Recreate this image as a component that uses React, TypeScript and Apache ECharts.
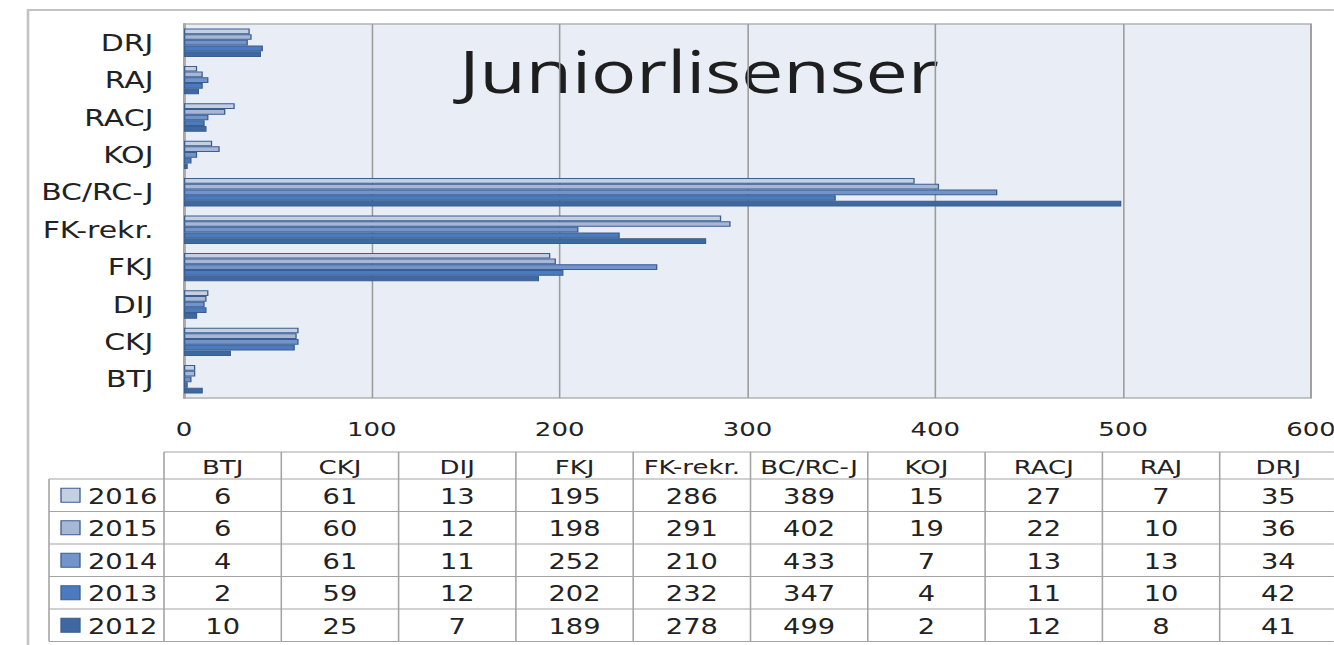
import React, { useEffect, useRef } from "react";
import * as echarts from "echarts";

const categories = ["BTJ", "CKJ", "DIJ", "FKJ", "FK-rekr.", "BC/RC-J", "KOJ", "RACJ", "RAJ", "DRJ"];
const years = ["2016", "2015", "2014", "2013", "2012"];
const v2016 = [6, 61, 13, 195, 286, 389, 15, 27, 7, 35];
const v2015 = [6, 60, 12, 198, 291, 402, 19, 22, 10, 36];
const v2014 = [4, 61, 11, 252, 210, 433, 7, 13, 13, 34];
const v2013 = [2, 59, 12, 202, 232, 347, 4, 11, 10, 42];
const v2012 = [10, 25, 7, 189, 278, 499, 2, 12, 8, 41];
const seriesValues = [v2016, v2015, v2014, v2013, v2012];
const colors = ["#C4CFE3", "#A6B7D7", "#7394CA", "#4B7BBE", "#3F68A0"];
const xTicks = { min: 0, max: 600, interval: 100 };

const S = 1.3; // horizontal stretch of the picture
const W = 1334 / S;
const H = 645;
const X = (x: number) => x / S;

const FONT = "DejaVu Sans";
const TXT = "#222222";
const GRIDC = "#A3A3A3";

function buildTable(): any[] {
  const els: any[] = [];
  const colLeft = 164;
  const colW = 117.3;
  const headTop = 452;
  const headBottom = 479;
  const rowH = 32.5;
  const bottom = headBottom + rowH * years.length;
  const rightEnd = 1345;
  const line = (x1: number, y1: number, x2: number, y2: number) => ({
    type: "line",
    silent: true,
    shape: { x1: X(x1), y1, x2: X(x2), y2 },
    style: { stroke: GRIDC, lineWidth: 1.2 },
  });
  els.push(line(colLeft, headTop, rightEnd, headTop));
  for (let i = 0; i <= years.length; i++) {
    const y = headBottom + i * rowH;
    els.push(line(49, y, rightEnd, y));
  }
  els.push(line(49, headBottom, 49, bottom));
  for (let j = 0; j <= categories.length; j++) {
    const x = colLeft + j * colW;
    els.push(line(x, headTop, x, bottom));
  }
  categories.forEach((c, j) => {
    els.push({
      type: "text",
      silent: true,
      x: X(colLeft + (j + 0.5) * colW),
      y: (headTop + headBottom) / 2 + 1,
      style: {
        text: c,
        fontFamily: FONT,
        fontSize: 20,
        fill: TXT,
        textAlign: "center",
        textVerticalAlign: "middle",
      },
    });
  });
  years.forEach((yr, i) => {
    const cy = headBottom + (i + 0.5) * rowH;
    els.push({
      type: "rect",
      silent: true,
      shape: { x: X(61), y: cy - 7, width: X(19), height: 14 },
      style: { fill: colors[i], stroke: "#3A5E90", lineWidth: 1 },
    });
    els.push({
      type: "text",
      silent: true,
      x: X(88),
      y: cy + 1,
      style: {
        text: yr,
        fontFamily: FONT,
        fontSize: 21,
        fill: TXT,
        textAlign: "left",
        textVerticalAlign: "middle",
      },
    });
    seriesValues[i].forEach((v, j) => {
      els.push({
        type: "text",
        silent: true,
        x: X(colLeft + (j + 0.5) * colW),
        y: cy + 1,
        style: {
          text: String(v),
          fontFamily: FONT,
          fontSize: 21,
          fill: TXT,
          textAlign: "center",
          textVerticalAlign: "middle",
        },
      });
    });
  });
  return els;
}

export default function App() {
  const ref = useRef<HTMLDivElement>(null);
  useEffect(() => {
    document.body.style.margin = "0";
    document.body.style.overflow = "hidden";
    if (!ref.current) return;
    const chart = echarts.init(ref.current, null, { renderer: "svg", width: W, height: H });
    const plotLeft = 184;
    const plotRight = 1311;
    const plotTop = 24;
    const plotBottom = 398;
    const option: any = {
      animation: false,
      backgroundColor: "#ffffff",
      grid: {
        left: X(plotLeft),
        right: W - X(plotRight),
        top: plotTop,
        bottom: H - plotBottom,
        show: true,
        backgroundColor: "#E9EDF5",
        borderColor: "#B3B3B3",
        borderWidth: 1.5,
        containLabel: false,
        outerBoundsMode: "none",
      },
      xAxis: {
        type: "value",
        min: xTicks.min,
        max: xTicks.max,
        interval: xTicks.interval,
        axisLine: { show: false },
        axisTick: { show: false },
        splitLine: { show: true, lineStyle: { color: "#9C9C9C", width: 1.2 } },
        axisLabel: { fontFamily: FONT, fontSize: 20, color: TXT, margin: 21 },
      },
      yAxis: {
        type: "category",
        data: categories,
        axisLine: { show: true, lineStyle: { color: "#A8A8A8", width: 2 } },
        axisTick: { show: false },
        axisLabel: { fontFamily: FONT, fontSize: 23, color: TXT, margin: 23.5 },
      },
      series: years.map((yr, i) => ({
        name: yr,
        type: "bar",
        data: seriesValues[i],
        barGap: "0%",
        barCategoryGap: "24%",
        itemStyle: { color: colors[i], borderColor: "#3A5E90", borderWidth: 1 },
      })),
      graphic: [
        {
          type: "rect",
          silent: true,
          shape: { x: X(28), y: 10, width: W, height: H },
          style: { fill: "none", stroke: "#C2C2C2", lineWidth: 2 },
          z: -10,
        },
        {
          type: "text",
          silent: true,
          x: X(699),
          y: 71,
          style: {
            text: "Juniorlisenser",
            fontFamily: "Open Sans",
            fontSize: 58,
            fill: "#1E1E1E",
            textAlign: "center",
            textVerticalAlign: "middle",
          },
        },
        ...buildTable(),
      ],
    };
    chart.setOption(option);
    return () => chart.dispose();
  }, []);
  return (
    <div
      ref={ref}
      style={{
        position: "absolute",
        left: 0,
        top: 0,
        width: W,
        height: H,
        transform: `scaleX(${S})`,
        transformOrigin: "0 0",
      }}
    />
  );
}
